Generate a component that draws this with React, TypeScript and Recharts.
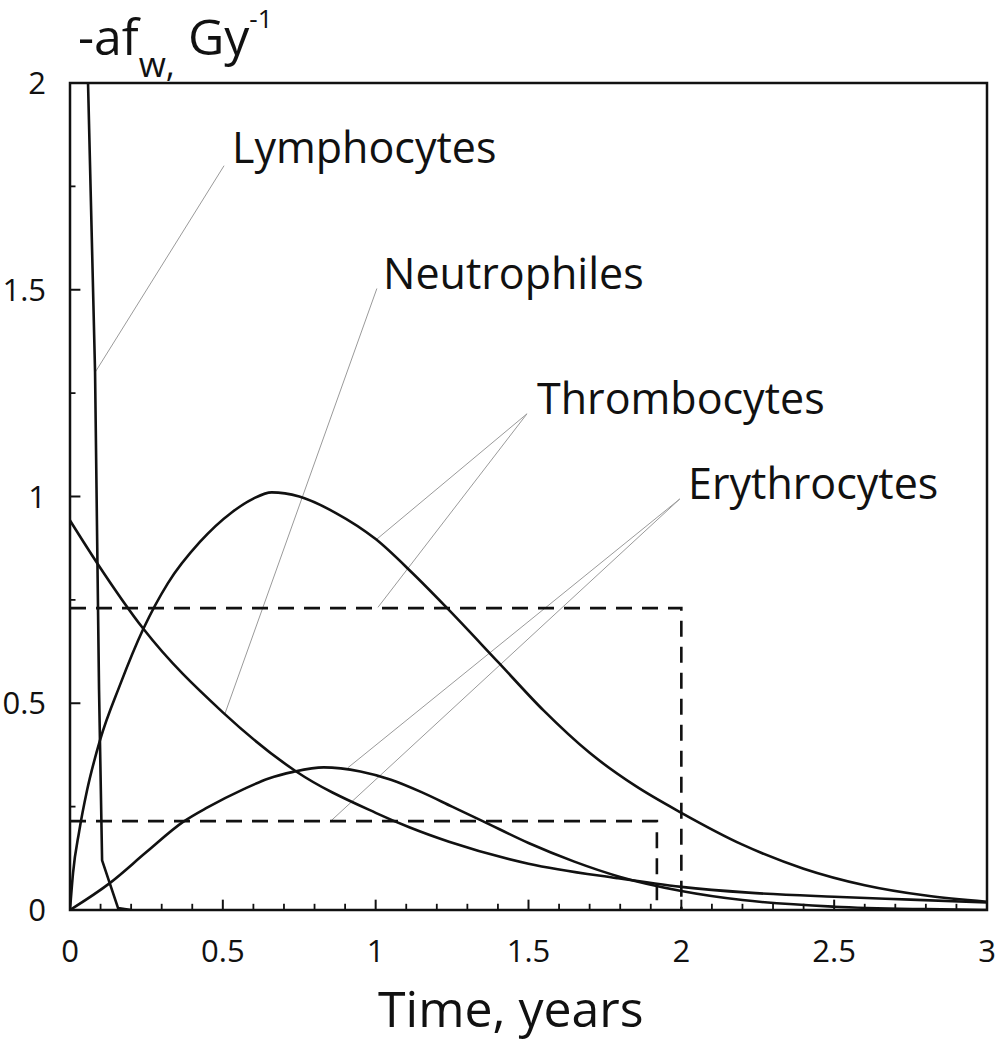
import React from "react";
import {
  LineChart,
  Line,
  XAxis,
  YAxis,
  ReferenceLine,
  ReferenceArea,
  ReferenceDot,
  Label,
} from "recharts";

// axis ticks
const xTicks = [0, 0.5, 1, 1.5, 2, 2.5, 3];
const xMajorMarks = [0.5, 1, 1.5, 2, 2.5];
const xMinorMarks = [0.1, 0.2, 0.3, 0.4, 0.6, 0.7, 0.8, 0.9, 1.1, 1.2, 1.3, 1.4, 1.6, 1.7, 1.8, 1.9, 2.1, 2.2, 2.3, 2.4, 2.6, 2.7, 2.8, 2.9];
const yTicks = [0, 0.5, 1, 1.5, 2];
const yMajorMarks = [0.5, 1, 1.5];
const yMinorMarks = [0.25, 0.75, 1.25, 1.75];

// curves (time in years, -af_w in Gy^-1)
const lymphT = [0.059, 0.082, 0.088, 0.095, 0.105, 0.157, 0.2];
const lymphV = [2.0, 1.3, 0.945, 0.533, 0.12, 0.005, 0];

const neutT = [0, 0.088, 0.24, 0.5, 0.74, 1.0, 1.11, 1.24, 1.5, 1.79, 2.0, 2.22, 2.5, 2.75, 3.0];
const neutV = [0.942, 0.84, 0.68, 0.478, 0.335, 0.235, 0.2, 0.165, 0.112, 0.077, 0.056, 0.042, 0.032, 0.025, 0.018];

const thrT = [0, 0.01, 0.03, 0.056, 0.098, 0.164, 0.24, 0.32, 0.425, 0.53, 0.6, 0.66, 0.75, 0.87, 1.0, 1.12, 1.23, 1.4, 1.55, 1.7, 1.85, 2.0, 2.2, 2.4, 2.6, 2.8, 3.0];
const thrV = [0, 0.09, 0.19, 0.29, 0.41, 0.545, 0.68, 0.79, 0.89, 0.962, 0.995, 1.01, 1.0, 0.96, 0.897, 0.815, 0.733, 0.6, 0.482, 0.38, 0.3, 0.235, 0.158, 0.1, 0.06, 0.035, 0.02];

const eryT = [0, 0.13, 0.25, 0.37, 0.45, 0.57, 0.65, 0.73, 0.83, 0.95, 1.05, 1.15, 1.25, 1.35, 1.5, 1.65, 1.8, 2.0, 2.2, 2.5, 2.8, 3.0];
const eryV = [0, 0.065, 0.14, 0.213, 0.248, 0.293, 0.318, 0.334, 0.345, 0.335, 0.315, 0.285, 0.25, 0.215, 0.162, 0.117, 0.08, 0.046, 0.024, 0.008, 0.002, 0];

// dashed guides
const thrDashT = [0, 2.0, 2.0];
const thrDashV = [0.73, 0.73, 0];
const eryDashT = [0, 1.92, 1.92];
const eryDashV = [0.215, 0.215, 0];

// annotations
const labelNames = ["Lymphocytes", "Neutrophiles", "Thrombocytes", "Erythrocytes"];
const labelT = [0.53, 1.024, 1.528, 2.022];
const labelV = [1.806, 1.503, 1.2, 0.994];

// leader lines: [t1, v1, t2, v2]
const leaders = [
  [0.504, 1.8, 0.082, 1.3],
  [1.004, 1.503, 0.507, 0.475],
  [1.495, 1.2, 1.004, 0.897],
  [1.495, 1.2, 1.0075, 0.732],
  [1.995, 0.994, 0.909, 0.344],
  [1.995, 0.994, 0.85, 0.213],
];

const rows = (ts: number[], vs: number[]) => ts.map((t, i) => ({ t, v: vs[i] }));

const FONT = "'Open Sans', 'DejaVu Sans', sans-serif";
const INK = "#111";

// inward tick mark lengths in data units
const X_MAJOR_LEN = 0.025;
const X_MINOR_LEN = 0.015;
const Y_MAJOR_LEN = 0.034;
const Y_MINOR_LEN = 0.018;

function XTick(p: any) {
  return (
    <text x={p.x} y={p.y + 50} textAnchor="middle" fontSize={31} fontFamily={FONT} fill={INK}>
      {String(p.payload.value)}
    </text>
  );
}

export default function App() {
  const tickStyle = { fontSize: 31, fill: INK, fontFamily: FONT };
  const seriesProps = { dataKey: "v", stroke: INK, strokeWidth: 2.6, dot: false, activeDot: false, isAnimationActive: false };
  return (
    <div style={{ position: "absolute", left: 0, top: 0, width: 995, height: 1050, background: "#fff" }}>
      <LineChart width={995} height={1050} margin={{ top: 83, right: 8, bottom: 139, left: 69 }}>
        <XAxis
          dataKey="t"
          type="number"
          domain={[0, 3]}
          ticks={xTicks}
          interval={0}
          allowDataOverflow
          height={1}
          axisLine={false}
          tickLine={false}
          tickSize={0}
          tick={<XTick />}
        >
          <Label
            content={() => (
              <text x={378} y={1027} fontSize={50} fontFamily={FONT} fill={INK}>
                Time, years
              </text>
            )}
          />
        </XAxis>
        <YAxis
          type="number"
          domain={[0, 2]}
          ticks={yTicks}
          interval={0}
          allowDataOverflow
          width={1}
          axisLine={false}
          tickLine={false}
          tickSize={0}
          tickMargin={24}
          tick={tickStyle}
          tickFormatter={(v: number) => String(v)}
        >
          <Label
            content={() => (
              <text x={78} y={55} fontSize={50} fontFamily={FONT} fill={INK}>
                <tspan>-af</tspan>
                <tspan fontSize={35} dy={22}>w,</tspan>
                <tspan dy={-22}> Gy</tspan>
                <tspan fontSize={26} dy={-27}>-1</tspan>
              </text>
            )}
          />
        </YAxis>

        <ReferenceArea x1={0} x2={3} y1={0} y2={2} fill="none" stroke={INK} strokeWidth={2.5} ifOverflow="visible" />

        {xMajorMarks.map((t) => (
          <ReferenceLine key={"xM" + t} segment={[{ x: t, y: 0 }, { x: t, y: X_MAJOR_LEN }]} stroke={INK} strokeWidth={2} />
        ))}
        {xMinorMarks.map((t) => (
          <ReferenceLine key={"xm" + t} segment={[{ x: t, y: 0 }, { x: t, y: X_MINOR_LEN }]} stroke={INK} strokeWidth={1.8} />
        ))}
        {yMajorMarks.map((v) => (
          <ReferenceLine key={"yM" + v} segment={[{ x: 0, y: v }, { x: Y_MAJOR_LEN, y: v }]} stroke={INK} strokeWidth={2} />
        ))}
        {yMinorMarks.map((v) => (
          <ReferenceLine key={"ym" + v} segment={[{ x: 0, y: v }, { x: Y_MINOR_LEN, y: v }]} stroke={INK} strokeWidth={1.8} />
        ))}

        {leaders.map((s, i) => (
          <ReferenceLine
            key={"ld" + i}
            segment={[{ x: s[0], y: s[1] }, { x: s[2], y: s[3] }]}
            stroke="#9a9a9a"
            strokeWidth={1}
            ifOverflow="visible"
          />
        ))}

        <Line data={rows(thrDashT, thrDashV)} type="linear" strokeDasharray="16 10" {...seriesProps} />
        <Line data={rows(eryDashT, eryDashV)} type="linear" strokeDasharray="16 10" {...seriesProps} />
        <Line data={rows(lymphT, lymphV)} type="linear" {...seriesProps} />
        <Line data={rows(neutT, neutV)} type="monotone" {...seriesProps} />
        <Line data={rows(thrT, thrV)} type="monotone" {...seriesProps} />
        <Line data={rows(eryT, eryV)} type="monotone" {...seriesProps} />

        {labelNames.map((name, i) => (
          <ReferenceDot
            key={name}
            x={labelT[i]}
            y={labelV[i]}
            r={0}
            ifOverflow="visible"
            shape={(p: any) => (
              <text x={p.cx} y={p.cy} fontSize={43} fontFamily={FONT} fill={INK}>
                {name}
              </text>
            )}
          />
        ))}
      </LineChart>
    </div>
  );
}
